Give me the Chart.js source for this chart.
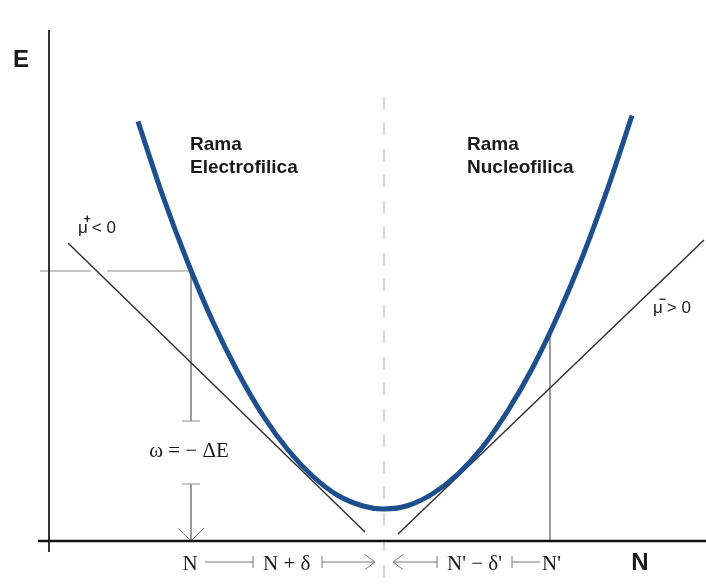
<!DOCTYPE html>
<html>
<head>
<meta charset="utf-8">
<script src="https://cdn.jsdelivr.net/npm/chart.js@4.4.1/dist/chart.umd.min.js"></script>
<style>
  html, body { margin: 0; background: #fff; }
  #wrap { width: 706px; height: 588px; }
</style>
</head>
<body>
<div id="wrap"><canvas id="energia" width="706" height="588"></canvas></div>
<script>
// E(N): puntos de la parábola de energía
const curveN = [1.78, 2.28, 2.78, 3.28, 3.78, 4.28, 4.78, 5.28, 5.78, 6.28, 6.70,
                7.18, 7.68, 8.18, 8.68, 9.18, 9.68, 10.18, 10.68, 11.18, 11.66];
const curveE = [8.39, 6.89, 5.56, 4.38, 3.37, 2.51, 1.82, 1.29, 0.91, 0.70, 0.64,
                0.71, 0.95, 1.34, 1.89, 2.61, 3.48, 4.52, 5.71, 7.07, 8.51];

// rectas tangentes (potencial químico μ+ y μ-)
const muPlusN = [0.38, 6.32];
const muPlusE = [5.96, 0.18];
const muMinusN = [6.98, 13.10];
const muMinusE = [0.14, 6.02];

// posiciones N, N' y el mínimo sobre el eje
const nLeft = 2.84;
const nRight = 10.02;
const nMin = 6.70;
const eAtN = 5.40;
const eAtNPrime = 4.17;

const pts = (xs, ys) => xs.map((x, i) => ({ x, y: ys[i] }));

function seg(data, color, width, extra) {
  return Object.assign({
    data, borderColor: color, borderWidth: width,
    pointRadius: 0, tension: 0, fill: false,
  }, extra || {});
}

const GRAY = '#8c8c8c';
const ROW = -0.42;   // fila de flechas bajo el eje N
const TK = 0.12;     // media altura de los topes

const datasets = [
  seg(pts(curveN, curveE), '#1d4e8d', 5, { tension: 0.35 }),
  seg(pts(muPlusN, muPlusE), '#2a2a2a', 1.4),
  seg(pts(muMinusN, muMinusE), '#2a2a2a', 1.4),
  // ejes
  seg([{ x: -0.22, y: 0 }, { x: 13.14, y: 0 }], '#111', 2.6),
  seg([{ x: 0, y: -0.22 }, { x: 0, y: 10.22 }], '#333', 2),
  // nivel E(N) hasta el eje de energía
  seg([{ x: -0.18, y: eAtN }, { x: 0.84, y: eAtN }], GRAY, 1),
  seg([{ x: 1.16, y: eAtN }, { x: 2.86, y: eAtN }], GRAY, 1),
  // cota ω = −ΔE
  seg([{ x: nLeft, y: eAtN }, { x: nLeft, y: 2.40 }], GRAY, 1),
  seg([{ x: 2.66, y: 2.40 }, { x: 3.02, y: 2.40 }], GRAY, 1),
  seg([{ x: 2.66, y: 1.14 }, { x: 3.02, y: 1.14 }], GRAY, 1),
  seg([{ x: nLeft, y: 1.14 }, { x: nLeft, y: 0 }], GRAY, 1),
  seg([{ x: 2.58, y: 0.26 }, { x: nLeft, y: 0 }, { x: 3.10, y: 0.26 }], GRAY, 1),
  // vertical en N'
  seg([{ x: nRight, y: eAtNPrime }, { x: nRight, y: 0 }], GRAY, 1),
  // mínimo
  seg([{ x: nMin, y: 8.88 }, { x: nMin, y: -0.94 }], '#c8c8c8', 1.5, { borderDash: [12, 14] }),
  // flechas de la fila inferior
  seg([{ x: 3.12, y: ROW }, { x: 4.08, y: ROW }], '#777', 1),
  seg([{ x: 4.08, y: ROW - TK }, { x: 4.08, y: ROW + TK }], '#777', 1),
  seg([{ x: 5.46, y: ROW }, { x: 6.52, y: ROW }], '#777', 1),
  seg([{ x: 5.46, y: ROW - TK }, { x: 5.46, y: ROW + TK }], '#777', 1),
  seg([{ x: 6.32, y: ROW + 0.15 }, { x: 6.52, y: ROW }, { x: 6.32, y: ROW - 0.15 }], '#777', 1),
  seg([{ x: 6.88, y: ROW }, { x: 7.76, y: ROW }], '#777', 1),
  seg([{ x: 7.76, y: ROW - TK }, { x: 7.76, y: ROW + TK }], '#777', 1),
  seg([{ x: 7.08, y: ROW + 0.15 }, { x: 6.88, y: ROW }, { x: 7.08, y: ROW - 0.15 }], '#777', 1),
  seg([{ x: 9.26, y: ROW }, { x: 9.82, y: ROW }], '#777', 1),
  seg([{ x: 9.26, y: ROW - TK }, { x: 9.26, y: ROW + TK }], '#777', 1),
];

const SANS = '"Liberation Sans", Arial, sans-serif';
const SERIF = '"Liberation Serif", "Times New Roman", serif';

// textos: [texto, N, E, fuente, alineación]
const labels = [
  ['E', -0.56, 9.48, `bold 24px ${SANS}`, 'center'],
  ['Rama', 2.82, 7.82, `bold 19px ${SANS}`, 'left'],
  ['Electrofilica', 2.82, 7.36, `bold 19px ${SANS}`, 'left'],
  ['Rama', 8.36, 7.82, `bold 19px ${SANS}`, 'left'],
  ['Nucleofilica', 8.36, 7.36, `bold 19px ${SANS}`, 'left'],
  ['ω = − ΔE', 2.80, 1.68, `21px ${SERIF}`, 'center'],
  ['N', 2.82, -0.58, `21px ${SERIF}`, 'center'],
  ['N + δ', 4.28, -0.58, `21px ${SERIF}`, 'left'],
  ["N' − δ'", 7.96, -0.58, `21px ${SERIF}`, 'left'],
  ["N'", 9.86, -0.58, `21px ${SERIF}`, 'left'],
  ['N', 11.82, -0.58, `bold 24px ${SANS}`, 'center'],
];

// μ con superíndice: [signo, resto, N, E]
const muLabels = [
  ['+', '< 0', 0.58, 6.16],
  ['−', '> 0', 12.08, 4.56],
];

const textMarks = {
  id: 'textMarks',
  afterDatasetsDraw(chart) {
    const { ctx, scales: { x, y } } = chart;
    ctx.save();
    ctx.fillStyle = '#1a1a1a';
    ctx.textBaseline = 'alphabetic';
    for (const [text, n, e, font, align] of labels) {
      ctx.font = font;
      ctx.textAlign = align;
      ctx.fillText(text, x.getPixelForValue(n), y.getPixelForValue(e));
    }
    ctx.textAlign = 'left';
    for (const [sign, rest, n, e] of muLabels) {
      let px = x.getPixelForValue(n);
      const py = y.getPixelForValue(e);
      ctx.font = `17px ${SANS}`;
      ctx.fillText('μ', px, py);
      px += ctx.measureText('μ').width;
      ctx.font = `bold 12px ${SANS}`;
      ctx.fillText(sign, px - 4, py - 10);
      px += 4;
      ctx.font = `17px ${SANS}`;
      ctx.fillText(rest, px, py);
    }
    ctx.restore();
  }
};

new Chart(document.getElementById('energia'), {
  type: 'line',
  data: { datasets },
  options: {
    responsive: false,
    animation: false,
    layout: { padding: 0 },
    scales: {
      x: { type: 'linear', min: -0.98, max: 13.14, display: false },
      y: { type: 'linear', min: -0.94, max: 10.82, display: false },
    },
    plugins: {
      legend: { display: false },
      tooltip: { enabled: false },
    },
  },
  plugins: [textMarks],
});
</script>
</body>
</html>
